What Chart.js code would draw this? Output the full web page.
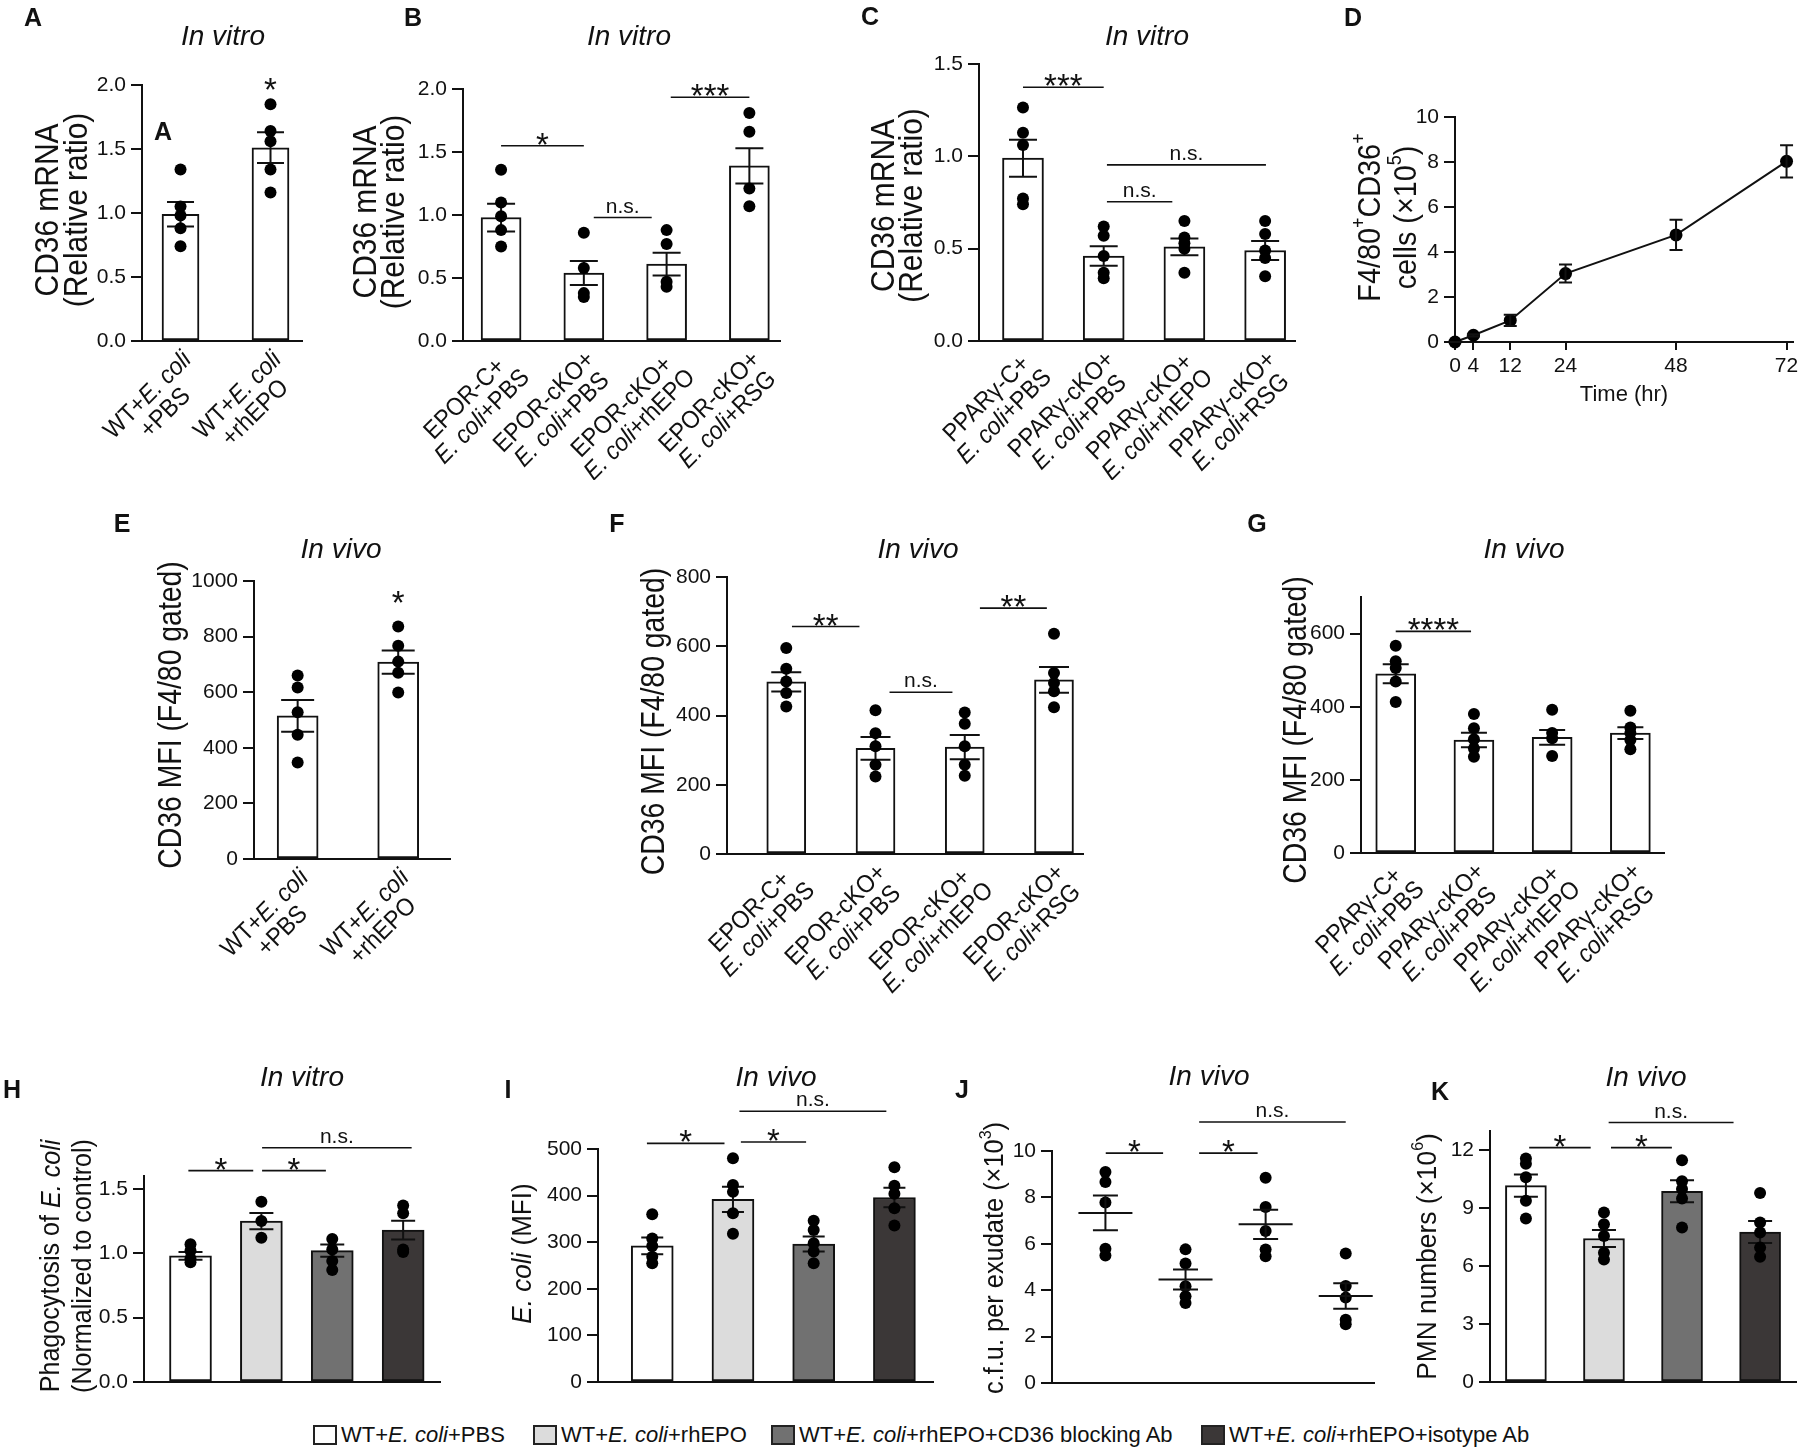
<!DOCTYPE html>
<html>
<head>
<meta charset="utf-8">
<title>CD36 / EPO panels</title>
<script src="https://cdn.jsdelivr.net/npm/chart.js@4.4.1/dist/chart.umd.min.js"></script>
<style>
  body { margin: 0; width: 1804px; height: 1452px; position: relative; background: #fff; overflow: hidden;
         font-family: "Liberation Sans", Arial, sans-serif; color: #111; }
  canvas { position: absolute; }
  .txt { position: absolute; transform: translate(-50%, -50%); white-space: nowrap; line-height: 1; }
  .letter { font-weight: bold; font-size: 25px; }
  .cond { font-style: italic; font-size: 28px; }
  .leg { position: absolute; top: 1424px; height: 22px; display: flex; align-items: center; font-size: 22px; white-space: nowrap; }
  .leg .sw { display: inline-block; width: 24px; height: 20px; border: 2px solid #222; box-sizing: border-box; margin-right: 4px; }
</style>
</head>
<body>
<script>
// ---------- data ----------
const wtLabels = [["WT+_E. coli_", "+PBS"], ["WT+_E. coli_", "+rhEPO"]];
const eporLabels = [["EPOR-C+", "_E. coli_+PBS"], ["EPOR-cKO+", "_E. coli_+PBS"],
                    ["EPOR-cKO+", "_E. coli_+rhEPO"], ["EPOR-cKO+", "_E. coli_+RSG"]];
const pparLabels = [["PPARγ-C+", "_E. coli_+PBS"], ["PPARγ-cKO+", "_E. coli_+PBS"],
                    ["PPARγ-cKO+", "_E. coli_+rhEPO"], ["PPARγ-cKO+", "_E. coli_+RSG"]];
const treatLabels = ["WT+_E. coli_+PBS", "WT+_E. coli_+rhEPO", "WT+_E. coli_+rhEPO+CD36 blocking Ab", "WT+_E. coli_+rhEPO+isotype Ab"];
const treatColors = ["#ffffff", "#dcdcdc", "#717171", "#3b3737"];

// A - CD36 mRNA, WT in vitro
const aMean = [0.99, 1.51];
const aSem = [0.095, 0.12];
const aDots = [[1.34, 1.05, 0.98, 0.88, 0.74], [1.85, 1.64, 1.56, 1.34, 1.16]];
const aSig = [[1, 1, 1.95, "*"]];

// B - CD36 mRNA, EPOR
const bMean = [0.98, 0.54, 0.61, 1.39];
const bSem = [0.11, 0.095, 0.09, 0.14];
const bDots = [[1.36, 1.10, 0.99, 0.88, 0.75], [0.86, 0.58, 0.38, 0.35], [0.88, 0.77, 0.47, 0.43], [1.81, 1.66, 1.21, 1.07]];
const bSig = [[0, 1, 1.55, "*"], [1.12, 1.82, 0.98, "n.s."], [2.05, 3.0, 1.935, "***"]];

// C - CD36 mRNA, PPARg
const cMean = [0.99, 0.46, 0.51, 0.49];
const cSem = [0.10, 0.053, 0.045, 0.052];
const cDots = [[1.265, 1.128, 1.061, 0.772, 0.741], [0.62, 0.57, 0.46, 0.37, 0.34], [0.65, 0.56, 0.53, 0.50, 0.37], [0.65, 0.58, 0.49, 0.45, 0.35]];
const cSig = [[0, 1, 1.374, "***"], [1.04, 1.85, 0.754, "n.s."], [1.04, 3.01, 0.954, "n.s."]];

// D - F4/80+CD36+ cells over time
const dTime = [0, 4, 12, 24, 48, 72];
const dMean = [0, 0.3, 0.96, 3.04, 4.76, 8.03];
const dSem = [0, 0.05, 0.25, 0.4, 0.67, 0.72];

// E - CD36 MFI, WT in vivo
const eMean = [515, 708];
const eSem = [57, 42];
const eDots = [[660, 617, 528, 447, 347], [836, 767, 710, 670, 599]];
const eSig = [[1, 1, 917, "*"]];

// F - CD36 MFI, EPOR
const fMean = [497, 305, 309, 503];
const fSem = [28, 33, 35, 37];
const fDots = [[595, 535, 498, 465, 426], [415, 349, 311, 258, 224], [409, 376, 311, 258, 226], [636, 523, 494, 470, 424]];
const fSig = [[0.064, 0.82, 657, "**"], [1.157, 1.862, 467, "n.s."], [2.17, 2.92, 710, "**"]];

// G - CD36 MFI, PPARg
const gMean = [490, 309, 316, 328];
const gSem = [26, 20, 20, 16];
const gDots = [[567, 524, 506, 469, 413], [380, 341, 311, 286, 263], [392, 328, 314, 265], [389, 343, 328, 309, 284]];
const gSig = [[0, 0.963, 606, "****"]];

// H - phagocytosis in vitro
const hMean = [0.98, 1.25, 1.02, 1.18];
const hSem = [0.03, 0.063, 0.048, 0.073];
const hDots = [[1.07, 1.02, 0.96, 0.93], [1.40, 1.25, 1.12], [1.11, 1.03, 0.94, 0.87], [1.37, 1.31, 1.03, 1.01]];
const hSig = [[-0.03, 0.885, 1.642, "*"], [1.01, 1.91, 1.642, "*"], [1.01, 3.12, 1.819, "n.s."]];

// I - E. coli MFI in vivo
const iMean = [292, 392, 296, 396];
const iSem = [18, 27, 16, 21];
const iDots = [[360, 308, 292, 269, 255], [480, 423, 408, 362, 318], [346, 326, 298, 280, 255], [461, 421, 404, 373, 336]];
const iSig = [[-0.066, 0.895, 512, "*"], [1.098, 1.906, 515, "*"], [1.08, 2.90, 581, "n.s."]];

// J - c.f.u. per exudate
const jMean = [7.33, 4.46, 6.84, 3.75];
const jSem = [0.75, 0.43, 0.63, 0.55];
const jDots = [[9.09, 8.66, 7.78, 5.79, 5.50], [5.76, 5.15, 4.17, 3.74, 3.45], [8.85, 7.59, 6.55, 5.75, 5.46], [5.58, 4.18, 3.68, 2.73, 2.53]];
const jSig = [[0.004, 0.72, 9.91, "*"], [1.17, 1.90, 9.91, "*"], [1.17, 3.0, 11.25, "n.s."]];

// K - PMN numbers
const kMean = [10.17, 7.43, 9.88, 7.77];
const kSem = [0.58, 0.44, 0.57, 0.57];
const kDots = [[11.57, 11.3, 10.61, 9.39, 8.47], [8.78, 8.17, 7.56, 6.7, 6.35], [11.48, 10.4, 10.0, 9.5, 8.0], [9.79, 8.26, 7.74, 6.96, 6.49]];
const kSig = [[0.042, 0.83, 12.14, "*"], [1.09, 1.87, 12.14, "*"], [1.06, 2.66, 13.44, "n.s."]];

// axis titles
const mrnaTitle = ["CD36 mRNA", "(Relative ratio)"];
const cellTitle = ["F4/80^+^CD36^+^", "cells (×10^5^)"];
const mfiTitle = ["CD36 MFI (F4/80 gated)"];
const phagoTitle = ["Phagocytosis of _E. coli_", "(Normalized to control)"];
const ecoliTitle = ["_E. coli_ (MFI)"];
const cfuTitle = ["c.f.u. per exudate (×10^3^)"];
const pmnTitle = ["PMN numbers (×10^6^)"];

// ---------- helpers ----------
const FONT = '"Liberation Sans", Arial, sans-serif';
const INK = "#111";
Chart.defaults.font.family = FONT;

function parseRich(s) {
  return s.split(/(_[^_]+_|\^[^^]+\^)/).filter(p => p).map(p =>
    p[0] === "_" ? { t: p.slice(1, -1), it: true } :
    p[0] === "^" ? { t: p.slice(1, -1), sup: true } : { t: p });
}
function segFont(g, size) {
  return (g.it ? "italic " : "") + (g.sup ? Math.round(size * 0.62) : size) + "px " + FONT;
}
function richWidth(ctx, segs, size) {
  let w = 0;
  segs.forEach(g => { ctx.font = segFont(g, size); w += ctx.measureText(g.t).width; });
  return w;
}
function drawRich(ctx, segs, x, y, size) {
  ctx.textAlign = "left";
  ctx.textBaseline = "middle";
  segs.forEach(g => {
    ctx.font = segFont(g, size);
    ctx.fillText(g.t, x, g.sup ? y - size * 0.36 : y);
    x += ctx.measureText(g.t).width;
  });
}

// error bars, significance bars, rotated labels and axis titles
function makeDecor(o) {
  return {
    id: "decor",
    afterDatasetDraw(chart, args) {
      if (args.index !== 0 || !o.means) return;
      const { ctx } = chart, xs = chart.scales.x, ys = chart.scales.y;
      ctx.save();
      ctx.strokeStyle = INK;
      ctx.lineWidth = 2;
      o.means.forEach((m, i) => {
        const cx = xs.getPixelForValue(o.xs ? o.xs[i] : i);
        const yt = ys.getPixelForValue(m + o.sems[i]), yb = ys.getPixelForValue(m - o.sems[i]);
        const hw = o.capW / 2;
        ctx.beginPath();
        ctx.moveTo(cx, yt); ctx.lineTo(cx, yb);
        ctx.moveTo(cx - hw, yt); ctx.lineTo(cx + hw, yt);
        ctx.moveTo(cx - hw, yb); ctx.lineTo(cx + hw, yb);
        if (o.meanW) {
          const ym = ys.getPixelForValue(m);
          ctx.moveTo(cx - o.meanW / 2, ym); ctx.lineTo(cx + o.meanW / 2, ym);
        }
        ctx.stroke();
      });
      ctx.restore();
    },
    afterDraw(chart) {
      const { ctx, chartArea: ca } = chart, xs = chart.scales.x, ys = chart.scales.y;
      ctx.save();
      ctx.fillStyle = INK;
      ctx.strokeStyle = INK;
      (o.sig || []).forEach(([a, b, v, t]) => {
        const x1 = xs.getPixelForValue(a), x2 = xs.getPixelForValue(b), y = ys.getPixelForValue(v);
        if (a !== b) {
          ctx.lineWidth = 1.6;
          ctx.beginPath(); ctx.moveTo(x1, y); ctx.lineTo(x2, y); ctx.stroke();
        }
        const star = t[0] === "*";
        ctx.font = (star ? 33 : 21) + "px " + FONT;
        ctx.textAlign = "center";
        ctx.textBaseline = "alphabetic";
        ctx.fillText(t, (x1 + x2) / 2, star ? y + 10 : y - 5);
      });
      if (o.xlab) {
        const L = o.xlab;
        L.lines.forEach((lines, i) => {
          const segsArr = lines.map(parseRich);
          ctx.save();
          ctx.translate(xs.getPixelForValue(i) + L.ox, ca.bottom + L.oy);
          ctx.rotate(-Math.PI / 4);
          ctx.scale(L.sq, 1);
          const ws = segsArr.map(s => richWidth(ctx, s, L.size));
          const mw = Math.max(...ws);
          segsArr.forEach((s, k) => drawRich(ctx, s, -mw / 2 - ws[k] / 2, k * L.lh, L.size));
          ctx.restore();
        });
      }
      if (o.ytitle) {
        const T = o.ytitle;
        const cy = (ca.top + ca.bottom) / 2 + (T.dy || 0);
        T.lines.forEach((line, k) => {
          const segs = parseRich(line);
          ctx.save();
          ctx.translate(ca.left + T.dx[k], cy);
          ctx.rotate(-Math.PI / 2);
          ctx.scale(T.sq, 1);
          const w = richWidth(ctx, segs, T.size);
          drawRich(ctx, segs, -w / 2, 0, T.size);
          ctx.restore();
        });
      }
      ctx.restore();
    }
  };
}

function dotSet(dots) {
  return {
    type: "scatter",
    data: dots.flatMap((g, i) => g.map(v => ({ x: i, y: v }))),
    backgroundColor: "#000", borderWidth: 0, pointRadius: 6, clip: false, order: 1
  };
}
function barSets(means, dots, colors, barW) {
  return [
    { type: "bar", data: means.map((m, i) => ({ x: i, y: m })), backgroundColor: colors,
      borderColor: INK, borderWidth: 2, borderSkipped: false, barThickness: barW, order: 2 },
    dotSet(dots)
  ];
}

// box / plot given as [left, top, right, bottom] in page pixels
function makeChart(p) {
  const [bl, bt, br, bb] = p.box, [pl, pt, pr, pb] = p.plot;
  const cv = document.createElement("canvas");
  cv.width = br - bl; cv.height = bb - bt;
  cv.style.left = bl + "px"; cv.style.top = bt + "px";
  document.body.appendChild(cv);
  const x = Object.assign({
    type: "linear", min: p.x[0], max: p.x[1], offset: false,
    grid: { display: false }, ticks: { display: false },
    border: { color: INK, width: 2 },
    afterFit: s => { s.height = bb - pb; s.paddingLeft = 0; s.paddingRight = 0; }
  }, p.xExtra || {});
  const y = {
    min: p.y[0], max: p.y[1],
    ticks: { stepSize: p.y[2], includeBounds: false, color: INK, font: { size: 21 }, padding: 5,
             callback: v => v.toFixed(p.y[3]) },
    grid: { drawOnChartArea: false, drawTicks: true, tickLength: 11, color: INK, lineWidth: 2 },
    border: { color: INK, width: 2 },
    afterFit: s => { s.width = pl - bl; s.paddingTop = 0; s.paddingBottom = 0; }
  };
  return new Chart(cv, {
    type: p.type || "bar",
    data: { datasets: p.datasets },
    options: {
      responsive: false, animation: false, devicePixelRatio: 1, events: [],
      layout: { padding: { left: 0, top: pt - bt, right: br - pr, bottom: 0 } },
      plugins: { legend: { display: false }, tooltip: { enabled: false } },
      scales: { x, y }
    },
    plugins: [makeDecor(p.decor)]
  });
}

const lab = { ox: 7, oy: 15, size: 25, sq: 0.92, lh: 25 };
const white = "#ffffff";

// ---------- row 1 ----------
makeChart({
  box: [0, 0, 330, 480], plot: [142, 85, 302, 341], x: [-0.428, 1.35], y: [0, 2, 0.5, 1],
  datasets: barSets(aMean, aDots, white, 37),
  decor: { means: aMean, sems: aSem, capW: 27, sig: aSig,
           xlab: Object.assign({ lines: wtLabels }, lab),
           ytitle: { lines: mrnaTitle, dx: [-93, -64], dy: -3, size: 34, sq: 0.88 } }
});
makeChart({
  box: [330, 0, 800, 480], plot: [463, 89, 780, 341], x: [-0.46, 3.37], y: [0, 2, 0.5, 1],
  datasets: barSets(bMean, bDots, white, 40),
  decor: { means: bMean, sems: bSem, capW: 28, sig: bSig,
           xlab: Object.assign({ lines: eporLabels }, lab),
           ytitle: { lines: mrnaTitle, dx: [-96, -68], dy: -3, size: 34, sq: 0.88 } }
});
makeChart({
  box: [820, 0, 1310, 480], plot: [979, 64, 1295, 341], x: [-0.545, 3.37], y: [0, 1.5, 0.5, 1],
  datasets: barSets(cMean, cDots, white, 41),
  decor: { means: cMean, sems: cSem, capW: 28, sig: cSig,
           xlab: Object.assign({ lines: pparLabels }, lab),
           ytitle: { lines: mrnaTitle, dx: [-94, -66], dy: 3, size: 34, sq: 0.88 } }
});
makeChart({
  type: "line",
  box: [1320, 0, 1804, 410], plot: [1455, 117, 1793, 342], x: [0, 73.4], y: [0, 10, 2, 0],
  datasets: [{ data: dTime.map((t, i) => ({ x: t, y: dMean[i] })), borderColor: INK, borderWidth: 2,
               pointRadius: 6.5, pointBackgroundColor: "#000", pointBorderWidth: 0, tension: 0, fill: false, clip: false }],
  xExtra: {
    afterBuildTicks: s => { s.ticks = dTime.map(v => ({ value: v })); },
    ticks: { display: true, autoSkip: false, maxRotation: 0, color: INK, font: { size: 21 }, padding: 4 },
    grid: { display: true, drawOnChartArea: false, drawTicks: true, tickLength: 8, color: INK, lineWidth: 2 },
    title: { display: true, text: "Time (hr)", color: INK, font: { size: 22 }, padding: { top: 0, bottom: 2 } }
  },
  decor: { means: dMean, sems: dSem, xs: dTime, capW: 13,
           ytitle: { lines: cellTitle, dx: [-84, -48], dy: -12, size: 32, sq: 0.9 } }
});

// ---------- row 2 ----------
makeChart({
  box: [80, 500, 520, 1010], plot: [254, 581, 450, 859], x: [-0.434, 1.515], y: [0, 1000, 200, 0],
  datasets: barSets(eMean, eDots, white, 41),
  decor: { means: eMean, sems: eSem, capW: 33, sig: eSig,
           xlab: Object.assign({ lines: wtLabels }, lab),
           ytitle: { lines: mfiTitle, dx: [-82], dy: -5, size: 33, sq: 0.86 } }
});
makeChart({
  box: [600, 500, 1160, 1010], plot: [727, 577, 1083, 854], x: [-0.664, 3.325], y: [0, 800, 200, 0],
  datasets: barSets(fMean, fDots, white, 39),
  decor: { means: fMean, sems: fSem, capW: 30, sig: fSig,
           xlab: Object.assign({ lines: eporLabels }, lab),
           ytitle: { lines: mfiTitle, dx: [-72], dy: 6, size: 33, sq: 0.86 } }
});
makeChart({
  box: [1230, 500, 1760, 1010], plot: [1361, 597, 1664, 853], x: [-0.444, 3.43], y: [0, 700, 200, 0],
  datasets: barSets(gMean, gDots, white, 40),
  decor: { means: gMean, sems: gSem, capW: 26, sig: gSig,
           xlab: Object.assign({ lines: pparLabels }, lab),
           ytitle: { lines: mfiTitle, dx: [-64], dy: 5, size: 33, sq: 0.86 } }
});

// ---------- row 3 ----------
makeChart({
  box: [0, 1085, 470, 1410], plot: [144, 1176, 440, 1382], x: [-0.656, 3.52], y: [0, 1.6, 0.5, 1],
  datasets: barSets(hMean, hDots, treatColors, 42),
  decor: { means: hMean, sems: hSem, capW: 24, sig: hSig,
           ytitle: { lines: phagoTitle, dx: [-92, -60], dy: -13, size: 27, sq: 0.93 } }
});
makeChart({
  box: [470, 1085, 940, 1410], plot: [598, 1149, 933, 1382], x: [-0.672, 3.478], y: [0, 500, 100, 0],
  datasets: barSets(iMean, iDots, treatColors, 42),
  decor: { means: iMean, sems: iSem, capW: 22, sig: iSig,
           ytitle: { lines: ecoliTitle, dx: [-75], dy: -12, size: 28, sq: 0.93 } }
});
makeChart({
  type: "scatter",
  box: [940, 1085, 1390, 1410], plot: [1052, 1151, 1374, 1383], x: [-0.667, 3.353], y: [0, 10, 2, 0],
  datasets: [dotSet(jDots)],
  decor: { means: jMean, sems: jSem, capW: 25, meanW: 54, sig: jSig,
           ytitle: { lines: cfuTitle, dx: [-56], dy: -9, size: 27, sq: 0.94 } }
});
makeChart({
  box: [1390, 1085, 1804, 1410], plot: [1490, 1131, 1796, 1382], x: [-0.46, 3.46], y: [0, 13, 3, 0],
  datasets: barSets(kMean, kDots, treatColors, 41),
  decor: { means: kMean, sems: kSem, capW: 24, sig: kSig,
           ytitle: { lines: pmnTitle, dx: [-62], dy: 0, size: 28, sq: 0.94 } }
});

// ---------- html text: panel letters, conditions, legend ----------
function addText(t, x, y, cls) {
  const d = document.createElement("div");
  d.className = "txt " + cls;
  d.textContent = t;
  d.style.left = x + "px";
  d.style.top = y + "px";
  document.body.appendChild(d);
}
[["A", 33, 17], ["B", 413, 17], ["C", 870, 16], ["D", 1353, 17], ["E", 122, 523], ["F", 617, 523],
 ["G", 1257, 523], ["H", 12, 1089], ["I", 508, 1089], ["J", 962, 1089], ["K", 1440, 1091], ["A", 163, 131]]
  .forEach(([t, x, y]) => addText(t, x, y, "letter"));
[["In vitro", 223, 36], ["In vitro", 629, 36], ["In vitro", 1147, 36], ["In vivo", 341, 549], ["In vivo", 918, 549],
 ["In vivo", 1524, 549], ["In vitro", 302, 1077], ["In vivo", 776, 1077], ["In vivo", 1209, 1076], ["In vivo", 1646, 1077]]
  .forEach(([t, x, y]) => addText(t, x, y, "cond"));

const legLeft = [313, 533, 771, 1201];
treatLabels.forEach((t, i) => {
  const d = document.createElement("div");
  d.className = "leg";
  d.style.left = legLeft[i] + "px";
  d.innerHTML = '<span class="sw" style="background:' + treatColors[i] + '"></span>' +
    t.replace(/_([^_]+)_/g, "<i>$1</i>");
  document.body.appendChild(d);
});
</script>
</body>
</html>
